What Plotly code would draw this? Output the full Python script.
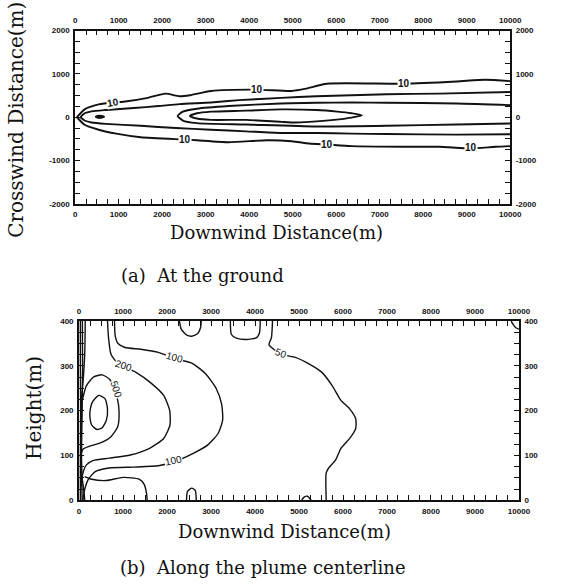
import plotly.graph_objects as go

# ---------------- Panel (a): ground-level concentration (crosswind vs downwind) -------------
a_outer_up_x = [40, 218, 541, 863, 1106, 1670, 2074, 2397, 2639, 3123, 4172, 4979, 5302, 5786, 7562, 8772, 9418, 10000]
a_outer_up_y = [0, 182, 296, 341, 356, 447, 546, 485, 508, 606, 637, 606, 659, 773, 773, 826, 864, 834]
a_outer_lo_x = [40, 218, 541, 944, 1509, 2518, 2800, 3527, 4414, 4979, 5383, 5786, 6351, 7562, 8368, 9095, 9660, 10000]
a_outer_lo_y = [0, -174, -288, -379, -462, -515, -531, -576, -531, -553, -606, -629, -667, -682, -682, -720, -682, -667]
a_l2_up_x = [121, 218, 379, 702, 1348, 1913, 2397, 3123, 3769, 4737, 5544, 6351, 7158, 8368, 10000]
a_l2_up_y = [0, 91, 136, 167, 212, 258, 303, 341, 394, 447, 485, 508, 531, 546, 584]
a_l2_lo_x = [121, 218, 379, 702, 1509, 2316, 3123, 3930, 4737, 5544, 6351, 7158, 8772, 10000]
a_l2_lo_y = [0, -76, -121, -152, -197, -250, -288, -326, -364, -364, -379, -387, -402, -394]
a_l3_x = [10000, 8772, 7158, 6351, 5544, 4737, 3527, 2800, 2477, 2356, 2477, 2800, 3930, 5544, 7158, 8772, 10000]
a_l3_y = [280, 318, 334, 341, 334, 318, 258, 197, 129, 30, -76, -136, -167, -212, -197, -167, -144]
a_l4_x = [2639, 2800, 3123, 3930, 4737, 5544, 6028, 6351, 6593, 6351, 5948, 5383, 5060, 4737, 3930, 3123, 2800, 2639]
a_l4_y = [30, 91, 129, 152, 182, 167, 129, 91, 45, -8, -61, -106, -121, -106, -61, -61, -30, 30]
a_core_x = [480, 560, 660, 560, 480]
a_core_y = [10, 30, 10, -12, 10]
a_label_x = [870, 4180, 7560, 2520, 5790, 9100]
a_label_y = [345, 640, 790, -515, -629, -705]
a_label_ang = [-10, 0, 0, 0, 0, 0]
a_label_txt = ["10", "10", "10", "10", "10", "10"]

# ---------------- Panel (b): vertical section along the plume centerline ----------------
b_c500i_x = [247, 303, 447, 590, 646, 622, 527, 407, 287, 247, 247]
b_c500i_y = [197, 219, 234, 227, 204, 179, 162, 158, 168, 186, 197]
b_c500_x = [72, 168, 327, 527, 702, 870, 910, 878, 726, 487, 247, 88, 32]
b_c500_y = [223, 256, 275, 280, 269, 227, 197, 164, 142, 128, 121, 114, 97]
b_c200_x = [646, 670, 726, 886, 1285, 1644, 1923, 2059, 2067, 1923, 1604, 1165, 686, 327, 168, 88, 48]
b_c200_y = [400, 363, 326, 305, 286, 261, 234, 201, 168, 138, 116, 101, 94, 89, 79, 61, 31]
b_c100_x = [806, 822, 886, 1045, 1404, 1803, 2203, 2562, 2881, 3120, 3240, 3264, 3160, 2921, 2562, 2163, 1803, 1245, 686, 367, 207, 128, 88]
b_c100_y = [400, 367, 350, 341, 337, 330, 315, 306, 282, 249, 215, 179, 149, 123, 103, 86, 77, 74, 72, 64, 46, 24, 0]
b_low_x = [128, 287, 606, 1005, 1365, 1484, 1532, 1548]
b_low_y = [53, 47, 44, 51, 47, 35, 16, 0]
b_c50_x = [4397, 4373, 4317, 4596, 4916, 5235, 5514, 5753, 5953, 6152, 6288, 6288, 6152, 5953, 5833, 5674, 5618, 5618]
b_c50_y = [400, 363, 347, 326, 319, 304, 286, 256, 223, 204, 182, 160, 138, 116, 90, 72, 61, 0]
b_bump1_x = [2282, 2322, 2442, 2562, 2697, 2761, 2777]
b_bump1_y = [400, 382, 369, 366, 372, 385, 400]
b_bump2_x = [3439, 3463, 3575, 3799, 4038, 4102, 4118]
b_bump2_y = [400, 370, 362, 359, 363, 374, 400]
b_bump3_x = [2442, 2466, 2562, 2641, 2665]
b_bump3_y = [0, 20, 27, 22, 0]
b_bump4_x = [5059, 5115, 5195, 5275]
b_bump4_y = [0, 7, 9, 0]
b_corner_x = [9823, 9863, 9927, 10000]
b_corner_y = [400, 393, 385, 382]
b_edge1_x = [30, 30, 35, 30, 30]
b_edge1_y = [400, 300, 200, 100, 0]
b_edge2_x = [75, 80, 70, 55, 70]
b_edge2_y = [400, 300, 200, 100, 0]
b_edge3_x = [140, 130, 95, 60, 60, 110, 130]
b_edge3_y = [400, 330, 270, 230, 60, 20, 0]
b_label_x = [2180, 1000, 850, 4600, 2150]
b_label_y = [318, 300, 248, 327, 88]
b_label_ang = [15, 18, 72, 20, -12]
b_label_txt = ["100", "200", "500", "50", "100"]

x_ticks = list(range(0, 10001, 1000))
x_text = [str(v) for v in x_ticks]
ya_ticks = [-2000, -1000, 0, 1000, 2000]
ya_text = ["-2000", "-1000", "0", "1000", "2000"]
yb_ticks = [0, 100, 200, 300, 400]
yb_text = [str(v) for v in yb_ticks]

fig = go.Figure()
LC = "#111111"

def add_line(xs, ys, xa, ya, w):
    fig.add_trace(go.Scatter(x=xs, y=ys, mode="lines", xaxis=xa, yaxis=ya,
                             line=dict(color=LC, width=w, shape="spline", smoothing=0.6),
                             hoverinfo="skip", showlegend=False))

for xs, ys in [(a_outer_up_x, a_outer_up_y), (a_outer_lo_x, a_outer_lo_y),
               (a_l2_up_x, a_l2_up_y), (a_l2_lo_x, a_l2_lo_y),
               (a_l3_x, a_l3_y), (a_l4_x, a_l4_y)]:
    add_line(xs, ys, "x", "y", 1.9)
add_line(a_core_x, a_core_y, "x", "y", 2.5)

for xs, ys in [(b_c500i_x, b_c500i_y), (b_c500_x, b_c500_y), (b_c200_x, b_c200_y),
               (b_c100_x, b_c100_y), (b_low_x, b_low_y), (b_c50_x, b_c50_y),
               (b_bump1_x, b_bump1_y), (b_bump2_x, b_bump2_y), (b_bump3_x, b_bump3_y),
               (b_bump4_x, b_bump4_y), (b_corner_x, b_corner_y),
               (b_edge1_x, b_edge1_y), (b_edge2_x, b_edge2_y), (b_edge3_x, b_edge3_y)]:
    add_line(xs, ys, "x2", "y2", 1.4)

# invisible traces so the mirrored (top/right) axes are drawn
fig.add_trace(go.Scatter(x=[None], y=[None], xaxis="x3", yaxis="y3", mode="lines",
                         showlegend=False, hoverinfo="skip"))
fig.add_trace(go.Scatter(x=[None], y=[None], xaxis="x4", yaxis="y4", mode="lines",
                         showlegend=False, hoverinfo="skip"))

W, H = 570, 587
pa = dict(l=75, r=521, t=27, b=203)
pb = dict(l=79, r=530, t=322, b=504)

def dom_x(p):
    return [p["l"] / W, p["r"] / W]

def dom_y(p):
    return [(H - p["b"]) / H, (H - p["t"]) / H]

tickfont = dict(family="Liberation Sans", size=8, color="#111", weight="bold")
common = dict(showline=True, linecolor=LC, linewidth=1.8, ticks="inside", ticklen=5,
              tickwidth=1.3, tickcolor=LC, showgrid=False, zeroline=False,
              tickfont=tickfont, fixedrange=True, ticklabelstandoff=2)

lay = dict(width=W, height=H, margin=dict(l=0, r=0, t=0, b=0),
           paper_bgcolor="white", plot_bgcolor="white", showlegend=False)

xminor = dict(dtick=250, ticks="inside", ticklen=5, tickwidth=1.3, tickcolor=LC, showgrid=False)
lay["xaxis"] = dict(domain=dom_x(pa), anchor="y", range=[0, 10000], tickvals=x_ticks,
                    ticktext=x_text, minor=xminor, **common)
lay["xaxis3"] = dict(domain=dom_x(pa), anchor="y", overlaying="x", side="top", range=[0, 10000],
                     tickvals=x_ticks, ticktext=x_text, minor=xminor, **common)
lay["yaxis"] = dict(domain=dom_y(pa), anchor="x", range=[-2000, 2000], tickvals=ya_ticks,
                    ticktext=ya_text, minor=dict(xminor, dtick=250), **common)
lay["yaxis3"] = dict(domain=dom_y(pa), anchor="x", overlaying="y", side="right", range=[-2000, 2000],
                     tickvals=ya_ticks, ticktext=ya_text, minor=dict(xminor, dtick=250), **common)

lay["xaxis2"] = dict(domain=dom_x(pb), anchor="y2", range=[0, 10000], tickvals=x_ticks,
                     ticktext=x_text, minor=xminor, **common)
lay["xaxis4"] = dict(domain=dom_x(pb), anchor="y2", overlaying="x2", side="top", range=[0, 10000],
                     tickvals=x_ticks, ticktext=x_text, minor=xminor, **common)
lay["yaxis2"] = dict(domain=dom_y(pb), anchor="x2", range=[0, 400], tickvals=yb_ticks,
                     ticktext=yb_text, minor=dict(xminor, dtick=25), **common)
lay["yaxis4"] = dict(domain=dom_y(pb), anchor="x2", overlaying="y2", side="right", range=[0, 400],
                     tickvals=yb_ticks, ticktext=yb_text, minor=dict(xminor, dtick=25), **common)
fig.update_layout(**lay)

serif = dict(family="DejaVu Serif", size=18, color="#111")
ann = []
ann.append(dict(text="Crosswind Distance(m)", x=15 / W, y=1 - 118 / H, textangle=-90,
                font=dict(serif, size=20)))
ann.append(dict(text="Downwind Distance(m)", x=281 / W, y=1 - 232 / H, font=serif))
ann.append(dict(text="(a)  At the ground", x=206 / W, y=1 - 276 / H, font=dict(serif, size=18)))
ann.append(dict(text="Height(m)", x=33 / W, y=1 - 410 / H, textangle=-90, font=dict(serif, size=20)))
ann.append(dict(text="Downwind Distance(m)", x=290 / W, y=1 - 536 / H, font=serif))
ann.append(dict(text="(b)  Along the plume centerline", x=268 / W, y=1 - 572 / H, font=dict(serif, size=18)))
for a in ann:
    a.update(xref="paper", yref="paper", showarrow=False, xanchor="center", yanchor="middle")

lab_font = dict(family="Liberation Sans", size=10, color="#111", weight="bold")
for x, y, ang, t in zip(a_label_x, a_label_y, a_label_ang, a_label_txt):
    ann.append(dict(text=t, x=x, y=y, xref="x", yref="y", showarrow=False, textangle=ang,
                    font=lab_font, bgcolor="white", borderpad=0))
lab_font_b = dict(family="Liberation Sans", size=10, color="#111")
for x, y, ang, t in zip(b_label_x, b_label_y, b_label_ang, b_label_txt):
    ann.append(dict(text=t, x=x, y=y, xref="x2", yref="y2", showarrow=False, textangle=ang,
                    font=lab_font_b, bgcolor="white", borderpad=0))
fig.update_layout(annotations=ann)

fig.write_html("out.html")
